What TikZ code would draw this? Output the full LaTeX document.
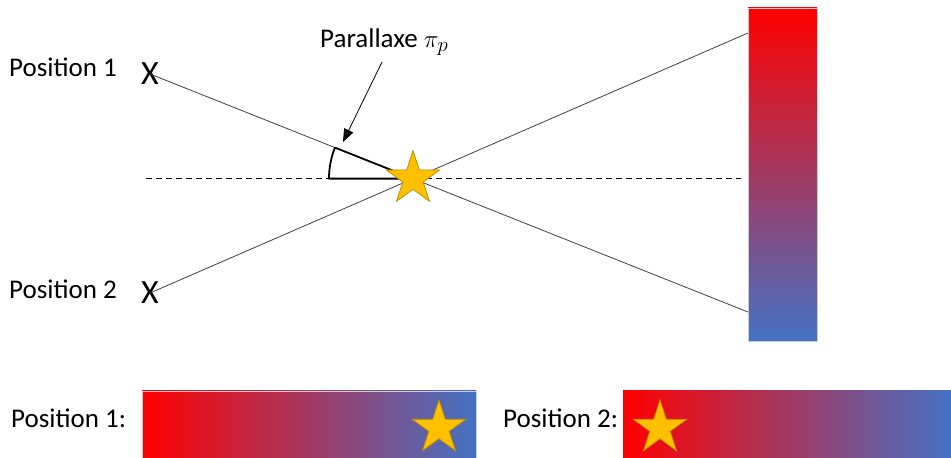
\documentclass[tikz,border=0pt]{standalone}
\usepackage{fontspec}
\setmainfont{Carlito}
\usetikzlibrary{shapes.geometric,arrows.meta,calc}

\definecolor{barred}{RGB}{255,0,0}
\definecolor{barmid}{RGB}{152,66,115}
\definecolor{barblue}{RGB}{68,114,196}
\definecolor{stargold}{RGB}{255,192,0}
\definecolor{staredge}{RGB}{191,144,0}
\definecolor{rayline}{RGB}{64,64,64}

\tikzset{
  label/.style={font=\fontsize{27}{32}\selectfont, inner sep=0pt},
  mark x/.style={font=\fontsize{34}{40}\selectfont, inner sep=0pt},
  ray/.style={draw=rayline, line width=0.8pt},
  gold star/.style={star, star points=5, star point ratio=2.618,
    minimum size=56pt, inner sep=0pt, fill=stargold, draw=staredge, line width=0.8pt},
  bar edge/.style={draw=black!20, line width=0.5pt},
}

\begin{document}
\begin{tikzpicture}[x=1pt,y=1pt]
  \useasboundingbox (0,0) rectangle (951,458);

  % observer positions
  \node[label, anchor=base west] (lab1) at (9,381) {Position 1};
  \node[label, anchor=base west] (lab2) at (9,159) {Position 2};
  \node[mark x] (X1) at (150,384) {X};
  \node[mark x] (X2) at (150,165) {X};

  % background screen (vertical gradient)
  \shade[top color=barred, middle color=barmid, bottom color=barblue] (748,117) rectangle (817,450);
  \draw[bar edge] (748,117) rectangle (817,450);
  \coordinate (P1) at (748,146);
  \coordinate (P2) at (748,425);

  % sight lines
  \coordinate (C) at (intersection of X1--P1 and X2--P2);
  \draw[ray] (X1.center) -- (P1);
  \draw[ray] (X2.center) -- (P2);

  % reference direction
  \draw[dashed, dash pattern=on 6pt off 4pt, line width=1.2pt]
    ($(C)+(-267,0)$) -- ($(C)+(328,0)$);

  % parallax angle sector
  \draw[line width=1.8pt, line join=round]
    let \p1=($(X1)-(C)$), \n1={atan2(\y1,\x1)} in
    (C) -- ($(C)!84pt!(X1)$) arc[start angle=\n1, end angle=180, radius=84pt] -- cycle;

  % star
  \node[gold star] (S) at (C) {};

  % annotation
  \node[label, anchor=base west] (par) at (320,410)
    {Parallaxe {\fontsize{32}{38}\selectfont$\pi_p$}};
  \coordinate (tip) at (343,316);
  \draw[line width=0.8pt, -{Triangle[length=13pt,width=10pt]}] (382,396) -- (tip);

  % images seen from each position
  \node[label, anchor=base west] (lab3) at (11,30) {Position 1:};
  \node[label, anchor=base west] (lab4) at (503,30) {Position 2:};
  \shade[left color=barred, middle color=barmid, right color=barblue] (142,0) rectangle (476,67);
  \draw[bar edge] (142,0) rectangle (476,67);
  \shade[left color=barred, middle color=barmid, right color=barblue] (623,0) rectangle (951,67);
  \node[gold star] (S1) at (439,30) {};
  \node[gold star] (S2) at (660,30) {};
\end{tikzpicture}
\end{document}
